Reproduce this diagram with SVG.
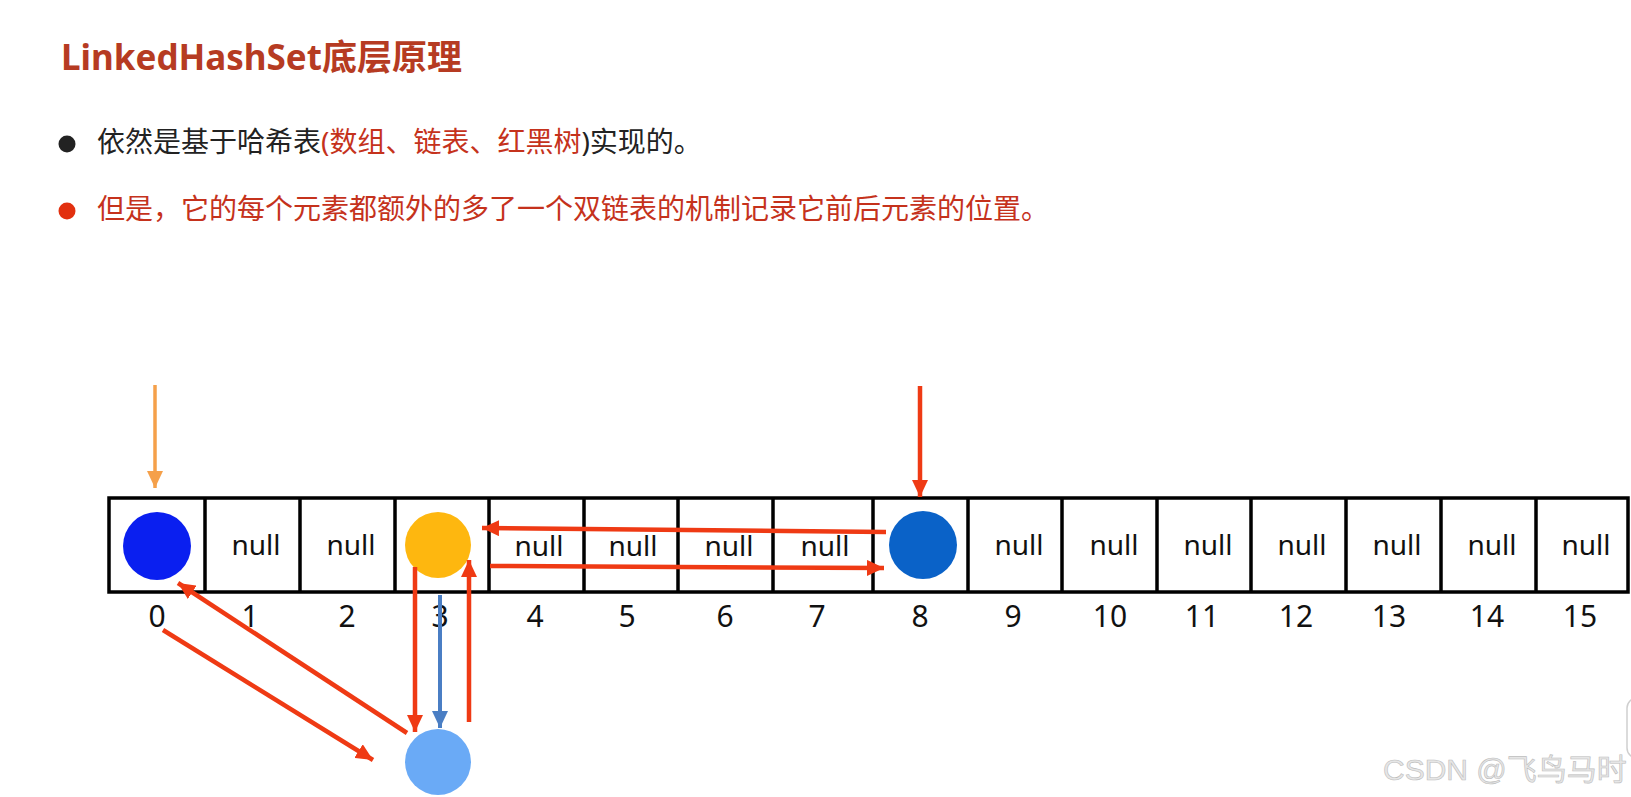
<svg xmlns="http://www.w3.org/2000/svg" width="1631" height="797" viewBox="0 0 1631 797">
<style>
.title{font-family:"Noto Sans","Noto Sans CJK SC",sans-serif;font-weight:bold;font-size:35px;fill:#b63b22}
.body{font-family:"Noto Sans","Noto Sans CJK SC",sans-serif;font-size:28px;fill:#222}
.red{fill:#c5321c}
.null{font-family:"Noto Sans","Open Sans",sans-serif;font-size:28px;fill:#111;text-anchor:middle}
.idx{font-family:"Noto Sans","Open Sans",sans-serif;font-size:30px;fill:#111;text-anchor:middle}
.grid{fill:none;stroke:#000;stroke-width:3.5}
.r{stroke:#ef3a14;stroke-width:4.5;fill:none}
.wm{font-family:"Liberation Sans","Noto Sans CJK SC",sans-serif;font-size:30px;fill:#e6e6e6;stroke:#bdbdbd;stroke-width:0.6}
</style>
<defs>
<marker id="ar" markerUnits="userSpaceOnUse" markerWidth="18" markerHeight="16" refX="17" refY="8" orient="auto"><path d="M0,0 L17,8 L0,16 z" fill="#ef3a14"/></marker>
<marker id="ao" markerUnits="userSpaceOnUse" markerWidth="18" markerHeight="16" refX="17" refY="8" orient="auto"><path d="M0,0 L17,8 L0,16 z" fill="#f5a04a"/></marker>
<marker id="ab" markerUnits="userSpaceOnUse" markerWidth="18" markerHeight="16" refX="17" refY="8" orient="auto"><path d="M0,0 L17,8 L0,16 z" fill="#4a7ec4"/></marker>
</defs>
<rect width="1631" height="797" fill="#fff"/>
<g id="title"><text class="title" x="61" y="70">LinkedHashSet底层原理</text></g>
<g id="bullet1">
<circle cx="67" cy="144" r="8.5" fill="#222"/>
<text class="body" x="97" y="152">依然是基于哈希表<tspan class="red">(数组、链表、红黑树</tspan>)实现的。</text>
</g>
<g id="bullet2">
<circle cx="67" cy="211" r="8.5" fill="#e2300f"/>
<text class="body red" x="97" y="219">但是，它的每个元素都额外的多了一个双链表的机制记录它前后元素的位置。</text>
</g>
<g id="array">
<rect class="grid" x="109" y="498" width="1519" height="94"/>
<path class="grid" d="M205,498V592M300,498V592M395,498V592M489,498V592M584,498V592M678,498V592M773,498V592M873,498V592M968,498V592M1062,498V592M1157,498V592M1251,498V592M1346,498V592M1441,498V592M1536,498V592"/>
<text class="null" x="256" y="555">null</text>
<text class="null" x="351" y="555">null</text>
<text class="null" x="539" y="556">null</text>
<text class="null" x="633" y="556">null</text>
<text class="null" x="729" y="556">null</text>
<text class="null" x="825" y="556">null</text>
<text class="null" x="1019" y="555">null</text>
<text class="null" x="1114" y="555">null</text>
<text class="null" x="1208" y="555">null</text>
<text class="null" x="1302" y="555">null</text>
<text class="null" x="1397" y="555">null</text>
<text class="null" x="1492" y="555">null</text>
<text class="null" x="1586" y="555">null</text>
</g>
<g id="indices">
<text class="idx" x="157" y="627">0</text>
<text class="idx" x="250" y="627">1</text>
<text class="idx" x="347" y="627">2</text>
<text class="idx" x="440" y="627">3</text>
<text class="idx" x="535" y="627">4</text>
<text class="idx" x="627" y="627">5</text>
<text class="idx" x="725" y="627">6</text>
<text class="idx" x="817" y="627">7</text>
<text class="idx" x="920" y="627">8</text>
<text class="idx" x="1013" y="627">9</text>
<text class="idx" x="1110" y="627">10</text>
<text class="idx" x="1202" y="627">11</text>
<text class="idx" x="1296" y="627">12</text>
<text class="idx" x="1389" y="627">13</text>
<text class="idx" x="1487" y="627">14</text>
<text class="idx" x="1580" y="627">15</text>
</g>
<g id="node0"><circle cx="157" cy="546" r="34" fill="#0a1ff0"/></g>
<g id="node3"><circle cx="438" cy="545" r="33" fill="#feb70f"/></g>
<g id="node8"><circle cx="923" cy="545" r="34" fill="#0a62c8"/></g>
<g id="node3b"><circle cx="438" cy="762" r="33" fill="#6aaaf6"/></g>
<g id="connectors">
<line x1="155" y1="385" x2="155" y2="488" stroke="#f5a04a" stroke-width="3.5" marker-end="url(#ao)"/>
<line class="r" x1="920" y1="386" x2="920" y2="497" marker-end="url(#ar)"/>
<line class="r" x1="886" y1="532" x2="482" y2="528" marker-end="url(#ar)"/>
<line class="r" x1="490" y1="566" x2="884" y2="568" marker-end="url(#ar)"/>
<line class="r" x1="415" y1="567" x2="415" y2="732" marker-end="url(#ar)"/>
<line x1="440" y1="595" x2="440" y2="728" stroke="#4a7ec4" stroke-width="4" marker-end="url(#ab)"/>
<line class="r" x1="469" y1="722" x2="469" y2="560" marker-end="url(#ar)"/>
<line class="r" x1="407" y1="733" x2="178" y2="583" marker-end="url(#ar)"/>
<line class="r" x1="163" y1="630" x2="373" y2="760" marker-end="url(#ar)"/>
</g>
<g id="watermark">
<rect x="1627" y="698" width="30" height="60" rx="10" fill="#fff" stroke="#cfcfcf" stroke-width="1.5"/>
<text class="wm" x="1383" y="780">CSDN @飞鸟马时</text>
</g>
</svg>
